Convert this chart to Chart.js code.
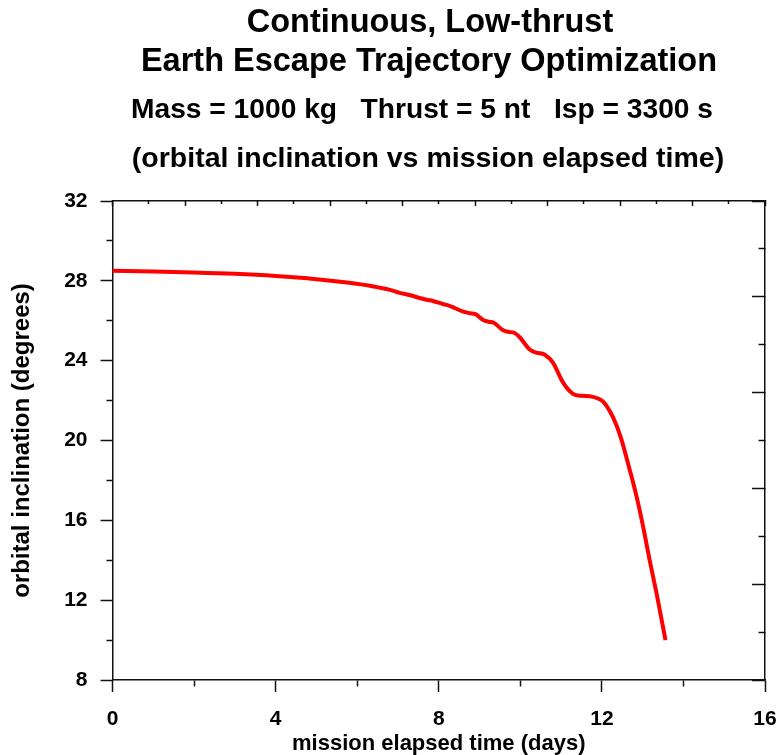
<!DOCTYPE html>
<html><head><meta charset="utf-8">
<script src="https://cdn.jsdelivr.net/npm/chart.js@4.4.1/dist/chart.umd.min.js"></script>
<style>html,body{margin:0;padding:0;background:#fff;}</style>
</head><body>
<canvas id="c" width="783" height="755"></canvas>
<script>
// ---- data ----
const missionDays = [0, 1, 2, 3, 4, 5, 5.8, 6.4, 6.8, 7.04, 7.3, 7.53, 7.7, 7.86, 8.1, 8.25, 8.39, 8.6, 8.75, 8.9,
  9.09, 9.22, 9.35, 9.58, 9.72, 9.85, 9.99, 10.23, 10.39, 10.6, 10.8, 11.05, 11.29, 11.5, 11.7, 11.87,
  12.03, 12.2, 12.36, 12.48, 12.68, 12.85, 13.01, 13.17, 13.34, 13.56];
const inclinationDeg = [28.50, 28.47, 28.42, 28.35, 28.24, 28.08, 27.90, 27.72, 27.55, 27.40, 27.28, 27.14, 27.05, 26.99, 26.84, 26.76, 26.64, 26.46, 26.38, 26.33,
  26.04, 25.95, 25.90, 25.52, 25.44, 25.40, 25.16, 24.56, 24.40, 24.30, 23.90, 22.90, 22.34, 22.24, 22.22, 22.13,
  21.95, 21.45, 20.75, 20.04, 18.55, 17.20, 15.70, 14.02, 12.35, 10.00];
const xTickLabels = ['0', '4', '8', '12', '16'];
const yTickLabels = ['8', '12', '16', '20', '24', '28', '32'];
const titleLines = ['Continuous, Low-thrust', 'Earth Escape Trajectory Optimization',
  'Mass = 1000 kg   Thrust = 5 nt   Isp = 3300 s', '(orbital inclination vs mission elapsed time)'];
const xAxisTitle = 'mission elapsed time (days)';
const yAxisTitle = 'orbital inclination (degrees)';

const FONT = '"Liberation Sans", Arial, Helvetica, sans-serif';
const AXIS = '#111';

const titlePlugin = {
  id: 'multiTitle',
  afterDraw(chart) {
    const ctx = chart.ctx;
    ctx.save();
    ctx.fillStyle = '#000';
    ctx.textAlign = 'center';
    ctx.textBaseline = 'alphabetic';
    const specs = [[32.5, 430, 32], [32.5, 429, 71], [28.2, 422, 118], [28.5, 428, 167]];
    titleLines.forEach((t, i) => {
      ctx.font = 'bold ' + specs[i][0] + 'px ' + FONT;
      ctx.fillText(t, specs[i][1], specs[i][2]);
    });
    ctx.restore();
  }
};

function minorDash(isMinor, pattern) { return isMinor ? pattern : []; }

new Chart(document.getElementById('c'), {
  type: 'line',
  data: {
    datasets: [{
      data: missionDays.map((d, i) => ({x: d, y: inclinationDeg[i]})),
      borderColor: '#ff0000',
      borderWidth: 4,
      pointRadius: 0,
      fill: false,
      cubicInterpolationMode: 'monotone',
      xAxisID: 'x',
      yAxisID: 'y'
    }]
  },
  options: {
    responsive: false,
    devicePixelRatio: 1,
    animation: false,
    layout: {padding: 0},
    plugins: {legend: {display: false}, tooltip: {enabled: false}, title: {display: false}},
    scales: {
      x: {
        type: 'linear', position: 'bottom', min: 0, max: 16,
        afterFit(s) { s.height = 75; s.paddingLeft = 0; s.paddingRight = 0; },
        ticks: {
          stepSize: 2, padding: 15, color: '#000', maxRotation: 0, autoSkip: false,
          font: {family: FONT, size: 21, weight: 'bold'},
          callback: v => (v % 4 === 0 ? xTickLabels[v / 4] : '')
        },
        grid: {
          drawOnChartArea: false, tickLength: 12, tickColor: AXIS, tickWidth: 1.5,
          tickBorderDash: c => minorDash(c.tick && c.tick.value % 4 !== 0, [6, 100])
        },
        border: {display: true, color: AXIS, width: 1.5},
        title: {display: true, text: xAxisTitle, color: '#000', padding: {top: 0, bottom: -2},
          font: {family: FONT, size: 22, weight: 'bold'}}
      },
      x2: {
        type: 'linear', position: 'top', min: 0, max: 18,
        afterFit(s) { s.height = 201; s.paddingLeft = 0; s.paddingRight = 0; },
        ticks: {stepSize: 1, display: false, autoSkip: false},
        grid: {
          drawOnChartArea: false, tickLength: -5, tickColor: AXIS, tickWidth: 1.5,
          tickBorderDash: c => minorDash(c.tick && c.tick.value % 2 !== 0, [0, 2, 3, 100])
        },
        border: {display: true, color: AXIS, width: 1.5}
      },
      y: {
        type: 'linear', position: 'left', min: 8, max: 32,
        afterFit(s) { s.width = 112.5; s.paddingTop = 0; s.paddingBottom = 0; },
        ticks: {
          stepSize: 2, padding: 13, color: '#000', autoSkip: false,
          font: {family: FONT, size: 21, weight: 'bold'},
          callback: v => (v % 4 === 0 ? yTickLabels[(v - 8) / 4] : '')
        },
        grid: {
          drawOnChartArea: false, tickLength: 12, tickColor: AXIS, tickWidth: 1.5,
          tickBorderDash: c => minorDash(c.tick && c.tick.value % 4 !== 0, [0, 6, 6, 100])
        },
        border: {display: true, color: AXIS, width: 1.5},
        title: {display: true, text: yAxisTitle, color: '#000', padding: {top: 8, bottom: 0},
          font: {family: FONT, size: 24, weight: 'bold'}}
      },
      y2: {
        type: 'linear', position: 'right', min: 0, max: 10,
        afterFit(s) { s.width = 18; s.paddingTop = 0; s.paddingBottom = 0; },
        ticks: {stepSize: 1, display: false, autoSkip: false},
        grid: {
          drawOnChartArea: false, tickLength: -13, tickColor: AXIS, tickWidth: 1.5,
          tickBorderDash: c => minorDash(c.tick && c.tick.value % 2 !== 0, [7, 100])
        },
        border: {display: true, color: AXIS, width: 1.5}
      }
    }
  },
  plugins: [titlePlugin]
});
</script>
</body></html>
